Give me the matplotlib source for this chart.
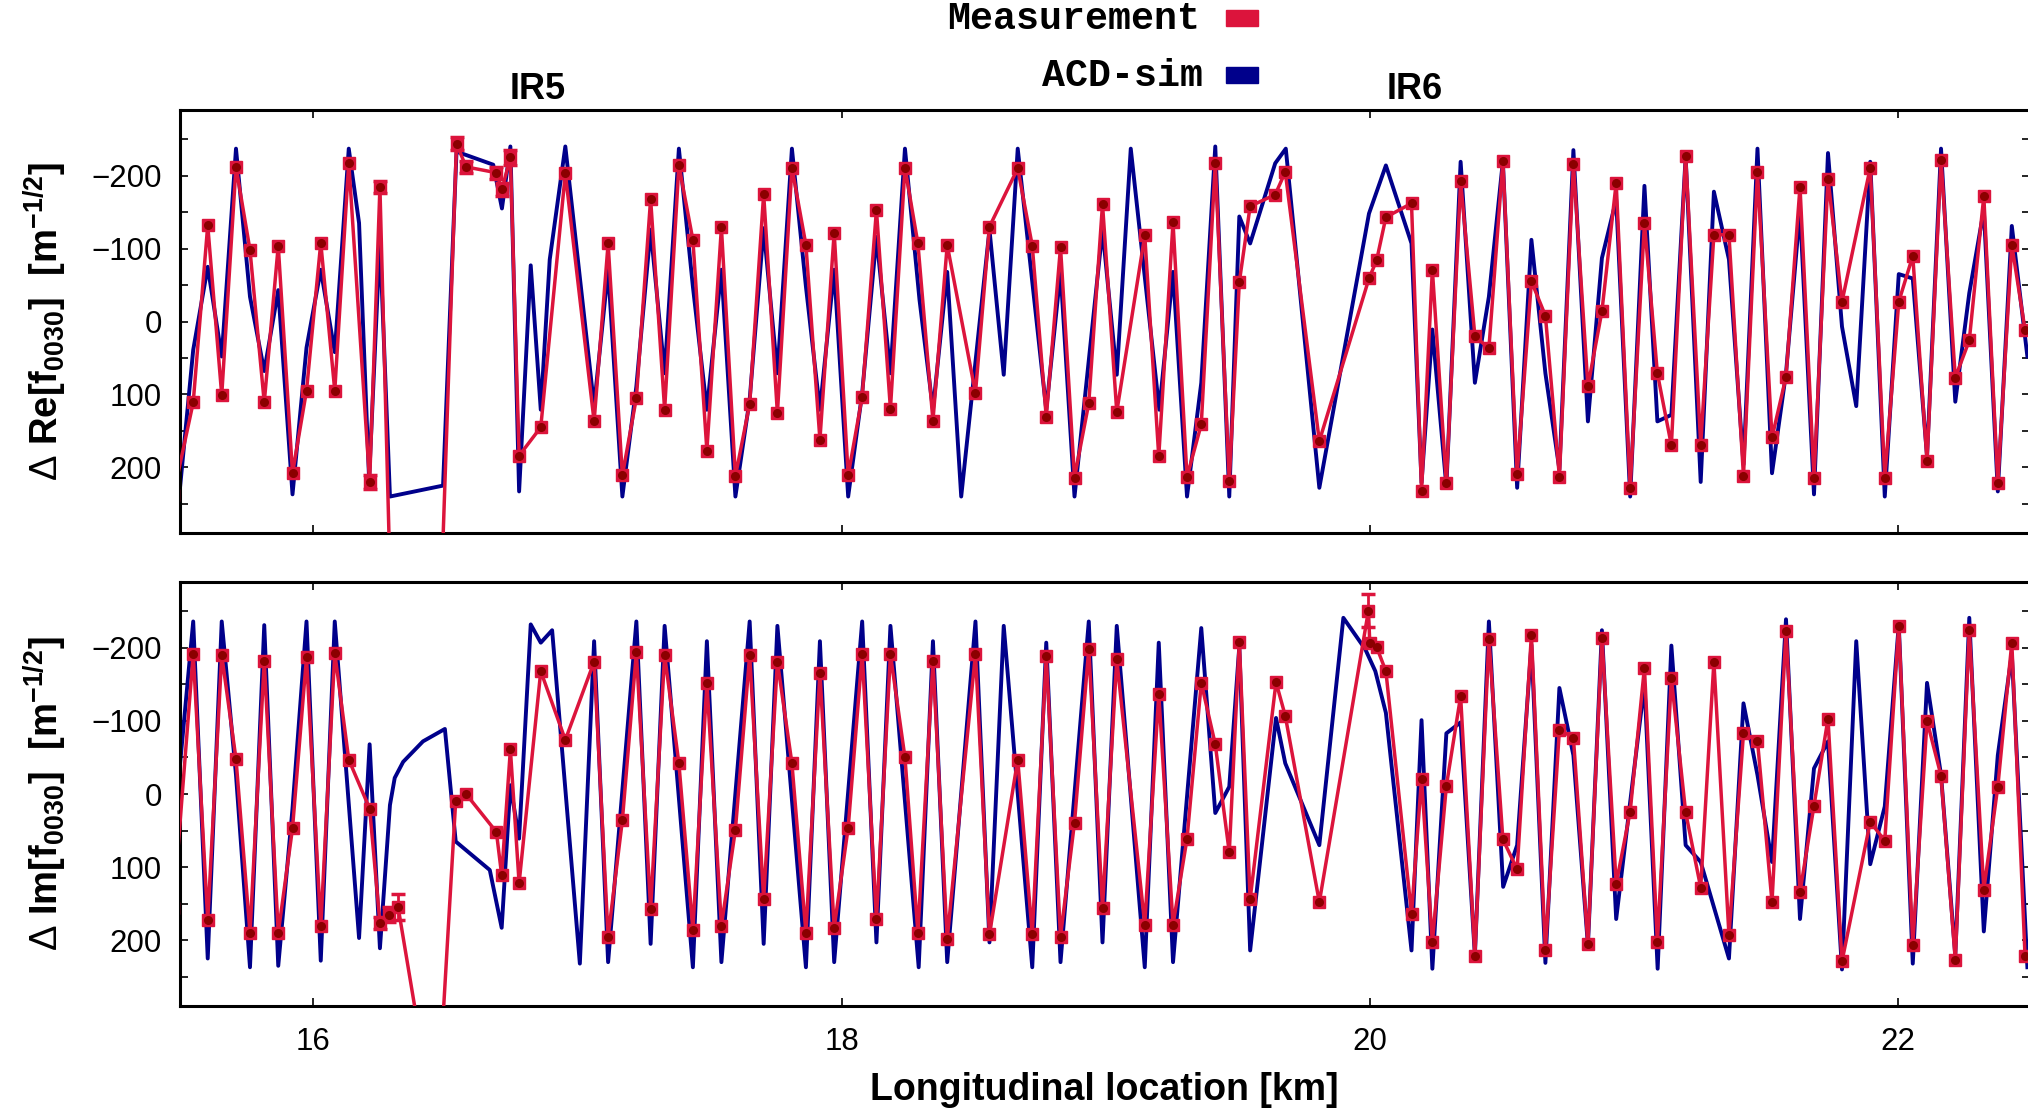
import matplotlib
matplotlib.use("Agg")
import matplotlib.pyplot as plt
from matplotlib.patches import Rectangle

plt.rcParams['font.family'] = ['Liberation Sans', 'DejaVu Sans']
plt.rcParams['mathtext.fontset'] = 'custom'
plt.rcParams['mathtext.rm'] = 'Liberation Sans'
plt.rcParams['mathtext.bf'] = 'Liberation Sans:bold'

# ---- Re[f0030] ----
re_meas_km = [15.47, 15.545, 15.600, 15.653, 15.707, 15.760, 15.814, 15.867, 15.921, 15.974,
              16.028, 16.081, 16.134, 16.213, 16.252, 16.375, 16.542, 16.578, 16.693, 16.714,
              16.746, 16.779, 16.861, 16.954, 17.063, 17.116, 17.170, 17.223, 17.277, 17.330,
              17.384, 17.437, 17.490, 17.545, 17.598, 17.652, 17.705, 17.757, 17.812, 17.865,
              17.918, 17.972, 18.025, 18.078, 18.132, 18.185, 18.240, 18.289, 18.346, 18.400,
              18.507, 18.560, 18.667, 18.722, 18.775, 18.829, 18.882, 18.936, 18.988, 19.042,
              19.148, 19.201, 19.255, 19.308, 19.362, 19.415, 19.468, 19.506, 19.547, 19.642,
              19.680, 19.809, 19.997, 20.026, 20.061, 20.158, 20.196, 20.237, 20.290, 20.344,
              20.398, 20.451, 20.504, 20.558, 20.612, 20.665, 20.718, 20.771, 20.826, 20.879,
              20.933, 20.986, 21.040, 21.089, 21.142, 21.196, 21.253, 21.303, 21.360, 21.415,
              21.468, 21.523, 21.576, 21.629, 21.682, 21.735, 21.788, 21.895, 21.950, 22.003,
              22.056, 22.110, 22.163, 22.217, 22.270, 22.325, 22.378, 22.431, 22.481]
re_meas = [238, 111, -132, 101, -212, -98, 111, -104, 208, 95,
           -108, 95, -218, 220, -184, 1528, -244, -212, -204, -181,
           -225, 184, 145, -203, 137, -107, 211, 105, -168, 121,
           -214, -112, 177, -129, 212, 113, -175, 126, -211, -105,
           162, -122, 211, 103, -153, 120, -211, -107, 136, -105,
           98, -130, -210, -104, 131, -102, 214, 112, -161, 124,
           -118, 185, -136, 213, 141, -217, 219, -54, -158, -174,
           -205, 164, -59, -84, -143, -162, 232, -71, 222, -192,
           20, 37, -220, 209, -55, -8, 213, -216, 89, -14,
           -190, 228, -135, 71, 170, -227, 169, -119, -119, 212,
           -205, 159, 76, -185, 214, -196, -27, -211, 214, -27,
           -90, 191, -222, 77, 26, -172, 222, -105, 11]

re_sim_km = [15.48, 15.545, 15.600, 15.653, 15.707, 15.760, 15.814, 15.867, 15.921, 15.974,
             16.028, 16.081, 16.134, 16.173, 16.211, 16.252, 16.290, 16.491, 16.542, 16.681,
             16.714, 16.746, 16.779, 16.823, 16.861, 16.895, 16.954, 17.063, 17.116, 17.170,
             17.223, 17.277, 17.330, 17.384, 17.437, 17.490, 17.545, 17.598, 17.652, 17.705,
             17.757, 17.812, 17.865, 17.918, 17.972, 18.025, 18.078, 18.132, 18.185, 18.240,
             18.295, 18.346, 18.400, 18.453, 18.560, 18.614, 18.667, 18.775, 18.829, 18.882,
             18.988, 19.042, 19.095, 19.203, 19.255, 19.308, 19.362, 19.415, 19.468, 19.506,
             19.547, 19.642, 19.682, 19.809, 19.997, 20.061, 20.158, 20.196, 20.237, 20.290,
             20.344, 20.398, 20.451, 20.504, 20.558, 20.612, 20.665, 20.718, 20.771, 20.826,
             20.879, 20.933, 20.986, 21.040, 21.089, 21.142, 21.196, 21.253, 21.303, 21.360,
             21.415, 21.468, 21.523, 21.576, 21.629, 21.682, 21.735, 21.788, 21.842, 21.895,
             21.950, 22.003, 22.056, 22.110, 22.163, 22.217, 22.270, 22.325, 22.378, 22.431,
             22.490]
re_sim = [285, 39, -75, 48, -237, -34, 68, -43, 237, 36,
          -71, 42, -237, -135, 217, -112, 240, 225, -233, -215,
          -155, -240, 233, -77, 121, -85, -240, 116, -71, 240,
          89, -126, 71, -237, -48, 121, -71, 240, 107, -128,
          71, -237, -48, 121, -71, 240, 98, -116, 71, -237,
          -30, 121, -68, 240, -126, 73, -237, 121, -68, 240,
          -126, 73, -237, 121, -68, 240, 84, -240, 240, -144,
          -107, -217, -237, 228, -148, -214, -107, 221, 11, 226,
          -219, 84, -34, -220, 228, -112, 71, 203, -235, 137,
          -87, -167, 240, -186, 137, 128, -226, 220, -178, -85,
          196, -237, 208, 71, -153, 237, -231, 7, 116, -219,
          240, -65, -59, 185, -237, 110, -39, -153, 233, -131,
          48]

re_err_km = [16.213, 16.252, 16.542, 16.578, 16.693, 16.714, 16.746]
re_err_val = [220, -184, -244, -212, -204, -181, -225]
re_err = [10, 8, 9, 8, 8, 9, 10]

# ---- Im[f0030] ----
im_meas_km = [15.47, 15.545, 15.600, 15.653, 15.707, 15.760, 15.814, 15.867, 15.921, 15.974,
              16.028, 16.081, 16.134, 16.213, 16.252, 16.288, 16.321, 16.465, 16.539, 16.578,
              16.693, 16.713, 16.746, 16.779, 16.861, 16.954, 17.063, 17.116, 17.170, 17.223,
              17.277, 17.330, 17.384, 17.437, 17.490, 17.545, 17.598, 17.652, 17.705, 17.757,
              17.812, 17.865, 17.918, 17.972, 18.025, 18.078, 18.132, 18.185, 18.240, 18.289,
              18.346, 18.400, 18.507, 18.560, 18.667, 18.722, 18.775, 18.829, 18.882, 18.936,
              18.988, 19.042, 19.148, 19.201, 19.255, 19.308, 19.362, 19.415, 19.468, 19.506,
              19.547, 19.645, 19.680, 19.809, 19.995, 20.000, 20.026, 20.061, 20.158, 20.196,
              20.237, 20.290, 20.344, 20.398, 20.451, 20.504, 20.558, 20.612, 20.665, 20.718,
              20.771, 20.826, 20.879, 20.933, 20.986, 21.040, 21.089, 21.142, 21.196, 21.253,
              21.303, 21.360, 21.415, 21.468, 21.523, 21.576, 21.629, 21.682, 21.735, 21.788,
              21.895, 21.950, 22.003, 22.056, 22.110, 22.163, 22.217, 22.270, 22.325, 22.378,
              22.431, 22.481]
im_meas = [156, -192, 173, -190, -48, 190, -182, 190, 47, -187,
           181, -193, -47, 20, 176, 165, 155, 467, 9, 0,
           52, 111, -61, 122, -168, -74, -181, 195, 36, -194,
           157, -190, -42, 186, -152, 180, 49, -190, 144, -181,
           -42, 190, -166, 183, 46, -192, 171, -191, -50, 190,
           -182, 198, -192, 192, -47, 192, -189, 195, 39, -199,
           156, -184, 179, -137, 179, 61, -152, -68, 80, -208,
           144, -153, -107, 148, -251, -207, -201, -168, 164, -21,
           203, -11, -134, 221, -212, 62, 103, -218, 213, -88,
           -77, 205, -214, 123, 24, -173, 203, -158, 25, 128,
           -181, 193, -83, -73, 148, -223, 134, 16, -103, 229,
           38, 64, -230, 206, -100, -25, 227, -224, 131, -10,
           -207, 221]

im_sim_km = [15.48, 15.545, 15.600, 15.653, 15.707, 15.760, 15.814, 15.867, 15.921, 15.974,
             16.028, 16.081, 16.173, 16.213, 16.252, 16.290, 16.308, 16.340, 16.415, 16.498,
             16.539, 16.668, 16.713, 16.746, 16.779, 16.823, 16.861, 16.904, 17.009, 17.063,
             17.116, 17.223, 17.277, 17.330, 17.437, 17.490, 17.545, 17.652, 17.705, 17.757,
             17.865, 17.918, 17.972, 18.078, 18.132, 18.185, 18.292, 18.346, 18.400, 18.507,
             18.560, 18.614, 18.722, 18.775, 18.829, 18.936, 18.988, 19.042, 19.148, 19.201,
             19.255, 19.362, 19.415, 19.468, 19.506, 19.547, 19.645, 19.680, 19.809, 19.900,
             19.983, 20.021, 20.061, 20.158, 20.196, 20.237, 20.290, 20.344, 20.398, 20.451,
             20.505, 20.558, 20.612, 20.665, 20.718, 20.771, 20.826, 20.879, 20.933, 20.986,
             21.040, 21.090, 21.142, 21.196, 21.253, 21.360, 21.415, 21.468, 21.523, 21.576,
             21.629, 21.682, 21.735, 21.788, 21.842, 21.895, 21.950, 22.003, 22.056, 22.110,
             22.163, 22.217, 22.270, 22.325, 22.378, 22.431, 22.490]
im_sim = [19, -236, 225, -236, -26, 237, -231, 235, 20, -236,
          228, -236, 197, -68, 211, 15, -22, -44, -72, -89,
          65, 104, 183, -12, 61, -232, -207, -224, 232, -209,
          230, -236, 205, -230, 237, -209, 230, -236, 205, -230,
          237, -209, 230, -236, 203, -230, 237, -209, 230, -236,
          203, -230, 237, -207, 230, -236, 203, -230, 237, -207,
          230, -227, 26, -10, -202, 214, -104, -42, 70, -241,
          -198, -168, -111, 214, -101, 239, -83, -98, 221, -236,
          127, 70, -204, 231, -145, -53, 207, -224, 171, 11,
          -150, 239, -203, 70, 93, 225, -124, -26, 93, -239,
          171, -35, -72, 240, -209, 96, 17, -232, 232, -152,
          -26, 221, -241, 188, -53, -192, 237]

im_err_km = [16.252, 16.288, 16.321, 19.995]
im_err_val = [176, 165, 155, -251]
im_err = [8, 10, 18, 23]

ir_labels = ['IR5', 'IR6']
ir_km = [16.85, 20.17]

meas_color = '#DC143C'
sim_color = '#00008B'
dot_color = '#8B0000'

W, H = 2028, 1114
fig = plt.figure(figsize=(W / 100, H / 100), dpi=100)
left = 180 / W
width = 1.0 - left + 0.001
ax_re = fig.add_axes([left, 1 - 533 / H, width, (533 - 110) / H])
ax_im = fig.add_axes([left, 1 - 1006 / H, width, (1006 - 582) / H])

panels = [
    (ax_re, re_sim_km, re_sim, re_meas_km, re_meas, re_err_km, re_err_val, re_err,
     r'$\Delta$ Re[f$_\mathbf{0030}$]  [m$^\mathbf{-1/2}$]'),
    (ax_im, im_sim_km, im_sim, im_meas_km, im_meas, im_err_km, im_err_val, im_err,
     r'$\Delta$ Im[f$_\mathbf{0030}$]  [m$^\mathbf{-1/2}$]'),
]

for ax, skm, sv, mkm, mv, ekm, ev, ee, ylab in panels:
    ax.plot(skm, sv, color=sim_color, lw=2.8, zorder=2)
    ax.errorbar(ekm, ev, yerr=ee, fmt='none', ecolor=meas_color, elinewidth=2,
                capsize=5, capthick=2.5, zorder=3)
    ax.plot(mkm, mv, color=meas_color, lw=2.5, marker='s', ms=8,
            mfc=meas_color, mec=meas_color, zorder=4)
    ax.plot(mkm, mv, ls='none', marker='o', ms=5.5, mfc=dot_color, mec=dot_color, zorder=5)

    ax.set_xlim(15.495, 22.5)
    ax.set_ylim(290, -290)
    ax.set_xticks([16, 18, 20, 22])
    ax.set_yticks([-200, -100, 0, 100, 200])
    ax.set_yticks([-250, -150, -50, 50, 150, 250], minor=True)
    ax.tick_params(which='both', direction='in', top=True, right=True,
                   length=6, width=1.2, labelsize=22.5, pad=13)
    for s in ax.spines.values():
        s.set_linewidth(2.2)
    pos = ax.get_position()
    fig.text(45 / W, (pos.y0 + pos.y1) / 2, ylab, rotation=90, ha='center',
             va='center', fontsize=27.5, fontweight='bold')

ax_re.tick_params(labelbottom=False)
ax_im.tick_params(axis='x', pad=15)

for lab, km in zip(ir_labels, ir_km):
    ax_re.text(km, -318, lab, ha='center', va='center', fontsize=26,
               fontweight='bold', clip_on=False)

fig.text(1104 / W, 1 - 1090 / H, 'Longitudinal location [km]', ha='center',
         va='center', fontsize=27, fontweight='bold')

# legend (gnuplot style, top centre)
fig.text(1200 / W, 1 - 19 / H, 'Measurement', ha='right', va='center',
         fontsize=27.5, fontweight='bold', family='Liberation Mono')
fig.text(1203 / W, 1 - 76 / H, 'ACD-sim', ha='right', va='center',
         fontsize=27.5, fontweight='bold', family='Liberation Mono')
fig.patches.append(Rectangle((1226 / W, 1 - 26 / H), 32 / W, 16 / H,
                             transform=fig.transFigure, color=meas_color))
fig.patches.append(Rectangle((1226 / W, 1 - 83 / H), 32 / W, 16 / H,
                             transform=fig.transFigure, color=sim_color))

fig.savefig('out.png', dpi=100)
